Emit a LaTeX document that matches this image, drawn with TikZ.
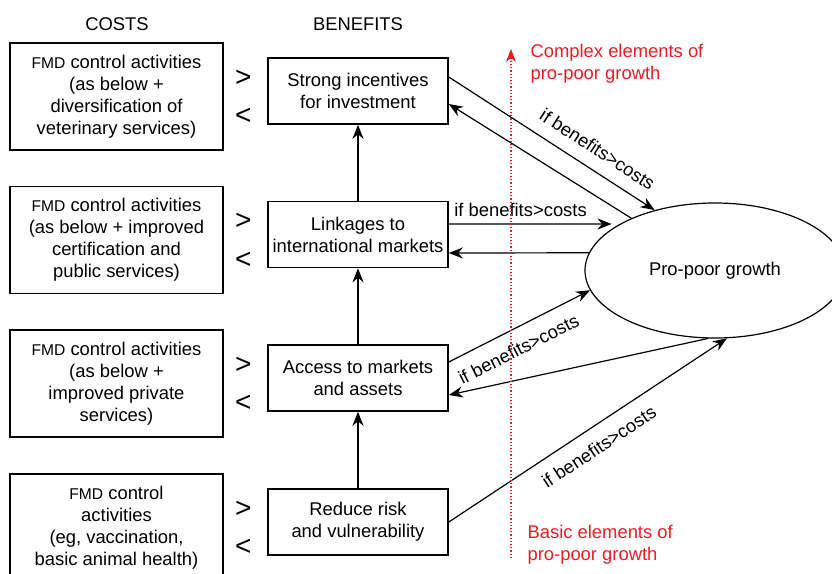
\documentclass[tikz,border=0pt]{standalone}
\usepackage{fontspec}
\setmainfont{Liberation Sans}
\usetikzlibrary{arrows.meta,shapes.geometric}

\definecolor{growthred}{RGB}{237,28,36}
\newcommand{\fmd}{{\fontsize{7.8}{11}\selectfont FMD}}

\tikzset{
    costbox/.style={draw, thick, minimum width=106.5pt, minimum height=53.5pt, align=center, inner sep=2pt},
    benbox/.style={draw, thick, minimum width=90pt, minimum height=33pt, align=center, inner sep=1pt},
    sign/.style={font=\fontsize{14}{14}\selectfont, inner sep=0pt},
    link/.style={semithick, -{Stealth[length=7pt,width=5.5pt]}},
    cond/.style={sloped, pos=#1},
}

\begin{document}
\begin{tikzpicture}[x=0.5pt, y=-0.5pt, font=\fontsize{9.2}{11}\selectfont]
\useasboundingbox (0,0) rectangle (832,574);

\node (costs) at (117,24) {COSTS};
\node (benefits) at (358,24) {BENEFITS};

% one row per level: costs and benefits
\foreach \i/\h/\cost/\ben in {
    1/91/{\fmd{} control activities\\(as below +\\diversification of\\veterinary services)}/{Strong incentives\\for investment},
    2/234.5/{\fmd{} control activities\\(as below + improved\\certification and\\public services)}/{Linkages to\\international markets},
    3/378/{\fmd{} control activities\\(as below +\\improved private\\services)}/{Access to markets\\and assets},
    4/522/{\fmd{} control\\activities\\(eg, vaccination,\\basic animal health)}/{Reduce risk\\and vulnerability}%
} {
    \node[benbox] (ben\i) at (358,\h) {\ben};
    \node[costbox] (cost\i) at (116.5,\h) [yshift=-2.75pt] {\cost};
}

% the > and < signs between the two columns
\foreach \i in {1,...,4} {
    \path (ben\i.west) ++(-24,-13) node[sign] (more\i) {>};
    \path (ben\i.west) ++(-24,25.5) node[sign] (less\i) {<};
}

% benefits build on each other
\foreach \i/\j in {4/3,3/2,2/1} {
    \draw[link] (ben\i) -- (ben\j);
}

\node[draw, semithick, ellipse, minimum width=130pt, minimum height=67.5pt] (growth) at (715,270.5) {Pro-poor growth};

% links to and from growth
\draw[link] ([yshift=7pt]ben1.east) -- node[cond=0.67, above=3pt] {if benefits>costs} (growth.135);
\draw[link] (growth.148) -- ([yshift=-6.5pt]ben1.east);
\draw[link, shorten >=4pt] ([yshift=5.25pt]ben2.east) -- node[pos=0.42, above] {if benefits>costs} (growth.154);
\draw[link] (growth.172) -- ([yshift=-9.25pt]ben2.east);
\draw[link] ([yshift=8pt]ben3.east) -- node[cond=0.43, below=3pt] {if benefits>costs} (growth.189);
\draw[link] (growth.264) -- ([yshift=-8.5pt]ben3.east);
\draw[link] (ben4.east) -- node[cond=0.5, below=3pt] {if benefits>costs} (growth.280);

% basic to complex scale
\coordinate (basic) at (511,558);
\coordinate (complex) at (511,49);
\draw[growthred, line width=0.6pt, densely dotted, -{Stealth[length=6.5pt,width=5pt]}] (basic) -- (complex);
\node[growthred, anchor=west, align=left] (complex-text) at (523.5,63.5) {Complex elements of\\pro-poor growth};
\node[growthred, anchor=west, align=left] (basic-text) at (520.5,544.5) {Basic elements of\\pro-poor growth};

\end{tikzpicture}
\end{document}
